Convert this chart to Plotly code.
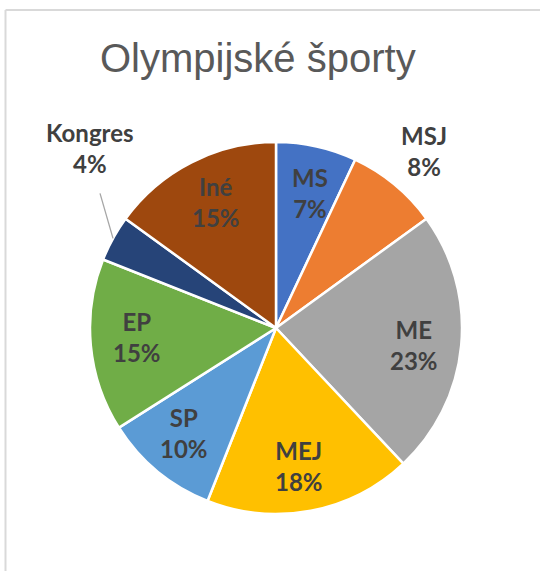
import math
import plotly.graph_objects as go

# ---- data ----
labels = ["MS", "MSJ", "ME", "MEJ", "SP", "EP", "Kongres", "Iné"]
values = [7, 8, 23, 18, 10, 15, 4, 15]
colors = ["#4472C4", "#ED7D31", "#A5A5A5", "#FFC000", "#5B9BD5", "#70AD47", "#264478", "#9E480E"]
title_text = "Olympijské športy"

# ---- layout constants (pixels) ----
W, H = 540, 571
CX, CY, R = 276, 328, 186
INSIDE_FRAC = 0.75
# outside labels: (radius fraction, angle in degrees clockwise from top)
outside = {"MSJ": (1.24, 39.8), "Kongres": (1.39, 314.0)}
LABEL_FONT = dict(family="Lato", size=24, color="#404040", weight="bold")


def px2paper(x, y):
    return x / W, 1 - y / H


fig = go.Figure(go.Pie(
    labels=labels,
    values=values,
    sort=False,
    direction="clockwise",
    rotation=0,
    marker=dict(colors=colors, line=dict(color="white", width=2.5)),
    textinfo="none",
    hoverinfo="label+percent",
    showlegend=False,
    domain=dict(x=[(CX - R) / W, (CX + R) / W], y=[1 - (CY + R) / H, 1 - (CY - R) / H]),
))

annotations = []
shapes = []
total = sum(values)
cum = 0
for lab, v in zip(labels, values):
    mid = (cum + v / 2) / total * 360
    cum += v
    pct = round(v / total * 100)
    text = f"{lab}<br>{pct}%"
    if lab in outside:
        frac, ang = outside[lab]
    else:
        frac, ang = INSIDE_FRAC, mid + 1.5
    lx = CX + frac * R * math.sin(math.radians(ang))
    ly = CY - frac * R * math.cos(math.radians(ang))
    x, y = px2paper(lx, ly)
    annotations.append(dict(x=x, y=y, xref="paper", yref="paper", text=text,
                            showarrow=False, xanchor="center", yanchor="middle",
                            font=LABEL_FONT))
    if lab == "Kongres":
        ex = CX + R * math.sin(math.radians(mid))
        ey = CY - R * math.cos(math.radians(mid))
        x0, y0 = px2paper(ex, ey)
        x1, y1 = px2paper(lx + 10, ly + 45)
        shapes.append(dict(type="line", xref="paper", yref="paper", x0=x0, y0=y0, x1=x1, y1=y1,
                           line=dict(color="#A6A6A6", width=1.3)))

# chart area border (left and top edges visible)
bx, by = px2paper(5.5, 10)
shapes.append(dict(type="line", xref="paper", yref="paper", x0=bx, y0=by, x1=bx, y1=-0.05,
                   line=dict(color="#D9D9D9", width=2)))
shapes.append(dict(type="line", xref="paper", yref="paper", x0=bx, y0=by, x1=1.05, y1=by,
                   line=dict(color="#D9D9D9", width=2)))

tx, ty = px2paper(257.5, 58)
annotations.append(dict(x=tx, y=ty, xref="paper", yref="paper", text=title_text,
                        showarrow=False, xanchor="center", yanchor="middle",
                        font=dict(family="Liberation Sans", size=40, color="#595959")))

fig.update_layout(
    width=W, height=H,
    margin=dict(l=0, r=0, t=0, b=0),
    paper_bgcolor="white",
    plot_bgcolor="white",
    annotations=annotations,
    shapes=shapes,
)

fig.write_html("out.html", config={"displayModeBar": False},
               post_script="document.body.style.margin='0';document.body.style.overflow='hidden';")
